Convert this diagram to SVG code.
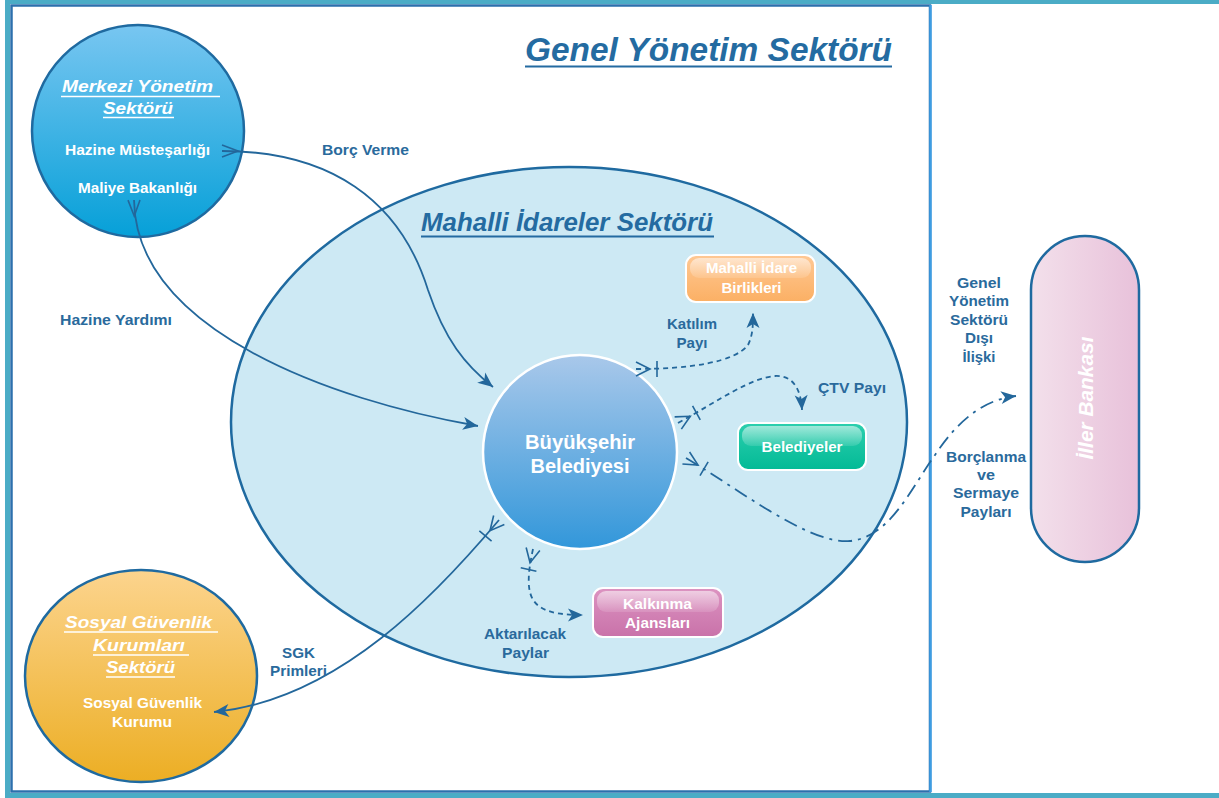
<svg xmlns="http://www.w3.org/2000/svg" width="1219" height="798" viewBox="0 0 1219 798">
<defs>
<linearGradient id="gMer" x1="0" y1="0" x2="0" y2="1"><stop offset="0" stop-color="#78c6f1"/><stop offset="1" stop-color="#06a0d8"/></linearGradient>
<linearGradient id="gBB" x1="0" y1="0" x2="0" y2="1"><stop offset="0" stop-color="#a9c8ea"/><stop offset="1" stop-color="#3297da"/></linearGradient>
<linearGradient id="gSGK" x1="0" y1="0" x2="0" y2="1"><stop offset="0" stop-color="#fcd48e"/><stop offset="1" stop-color="#ecae24"/></linearGradient>
<linearGradient id="gOr" x1="0" y1="0" x2="0" y2="1"><stop offset="0" stop-color="#ffc894"/><stop offset="1" stop-color="#fbb064"/></linearGradient>
<linearGradient id="gGr" x1="0" y1="0" x2="0" y2="1"><stop offset="0" stop-color="#2ccfae"/><stop offset="1" stop-color="#03ba96"/></linearGradient>
<linearGradient id="gPk" x1="0" y1="0" x2="0" y2="1"><stop offset="0" stop-color="#dc93c1"/><stop offset="1" stop-color="#c972a9"/></linearGradient>
<linearGradient id="gIl" x1="0" y1="0" x2="1" y2="0"><stop offset="0" stop-color="#f3e0eb"/><stop offset="1" stop-color="#e8c1da"/></linearGradient>
<linearGradient id="gHi" x1="0" y1="0" x2="0" y2="1"><stop offset="0" stop-color="#fff" stop-opacity="0.55"/><stop offset="1" stop-color="#fff" stop-opacity="0.12"/></linearGradient>
<marker id="ah" markerUnits="userSpaceOnUse" markerWidth="20" markerHeight="20" refX="0" refY="0" orient="auto" overflow="visible">
<path d="M0,0 L-15,-6.5 L-11,0 L-15,6.5 Z" fill="#23679b"/>
</marker>
<marker id="tail" markerUnits="userSpaceOnUse" markerWidth="20" markerHeight="20" refX="0" refY="0" orient="auto" overflow="visible">
<path d="M0,-6 L16,0 L0,6" fill="none" stroke="#23679b" stroke-width="1.6"/>
</marker>
<marker id="tailT" markerUnits="userSpaceOnUse" markerWidth="30" markerHeight="20" refX="0" refY="0" orient="auto" overflow="visible">
<path d="M0,-7 L14,0 L0,7 M21,-8 L21,8" fill="none" stroke="#23679b" stroke-width="1.6"/>
</marker>
<style>
.lbl{font-family:"Liberation Sans",Arial,sans-serif;font-weight:bold;font-size:15px;fill:#2a6a9c}
.wt{font-family:"Liberation Sans",Arial,sans-serif;font-weight:bold;font-size:15px;fill:#ffffff}
.wti{font-family:"Liberation Sans",Arial,sans-serif;font-weight:bold;font-style:italic;font-size:17px;fill:#ffffff}
.ttl{font-family:"Liberation Sans",Arial,sans-serif;font-weight:bold;font-style:italic;fill:#246ba1}
.ul{stroke:#ffffff;stroke-width:1.5}
.con{fill:none;stroke:#23679b;stroke-width:1.8}
.box{stroke:#ffffff;stroke-width:2}
</style>
</defs>
<rect x="0" y="0" width="1219" height="798" fill="#ffffff"/>
<rect x="7.5" y="1.5" width="1215" height="794" fill="none" stroke="#4bacc6" stroke-width="5"/>
<rect x="11.5" y="5.5" width="918.5" height="786" fill="none" stroke="#2c70ad" stroke-width="2.5"/>
<line x1="930.5" y1="5" x2="930.5" y2="792" stroke="#3e9de2" stroke-width="2.5"/>

<g id="title">
<text class="ttl" x="525" y="61" font-size="33" textLength="367" lengthAdjust="spacingAndGlyphs">Genel Yönetim Sektörü</text>
<line x1="525" y1="66.5" x2="892" y2="66.5" stroke="#246ba1" stroke-width="2.2"/>
</g>

<g id="mahalli-idareler">
<ellipse cx="569" cy="422" rx="338" ry="255" fill="#cde9f4" stroke="#1f6aa0" stroke-width="2.5"/>
<text class="ttl" x="421" y="231" font-size="25" textLength="292" lengthAdjust="spacingAndGlyphs">Mahalli İdareler Sektörü</text>
<line x1="421" y1="236.5" x2="714" y2="236.5" stroke="#246ba1" stroke-width="2"/>
</g>

<g id="merkezi">
<circle cx="138" cy="131" r="106" fill="url(#gMer)" stroke="#1f6aa0" stroke-width="2.5"/>
<text class="wti" x="62" y="92" textLength="151" lengthAdjust="spacingAndGlyphs">Merkezi Yönetim</text>
<line class="ul" x1="61" y1="96.5" x2="220" y2="96.5"/>
<text class="wti" x="103" y="114" textLength="70" lengthAdjust="spacingAndGlyphs">Sektörü</text>
<line class="ul" x1="103" y1="117.5" x2="174" y2="117.5"/>
<text class="wt" x="65" y="155" textLength="145" lengthAdjust="spacingAndGlyphs">Hazine Müsteşarlığı</text>
<text class="wt" x="78" y="193" textLength="119" lengthAdjust="spacingAndGlyphs">Maliye Bakanlığı</text>
</g>

<g id="sosyal">
<ellipse cx="141" cy="676" rx="116" ry="106" fill="url(#gSGK)" stroke="#1f6aa0" stroke-width="2.5"/>
<text class="wti" x="65" y="628" textLength="147" lengthAdjust="spacingAndGlyphs">Sosyal Güvenlik</text>
<line class="ul" x1="64" y1="632" x2="218" y2="632"/>
<text class="wti" x="93" y="651" textLength="92" lengthAdjust="spacingAndGlyphs">Kurumları</text>
<line class="ul" x1="93" y1="655" x2="189" y2="655"/>
<text class="wti" x="106" y="673" textLength="69" lengthAdjust="spacingAndGlyphs">Sektörü</text>
<line class="ul" x1="106" y1="677" x2="175" y2="677"/>
<text class="wt" x="83" y="708" textLength="119" lengthAdjust="spacingAndGlyphs">Sosyal Güvenlik</text>
<text class="wt" x="112" y="727" textLength="60" lengthAdjust="spacingAndGlyphs">Kurumu</text>
</g>

<g id="buyuksehir">
<circle cx="580" cy="452" r="97" fill="url(#gBB)" stroke="#ffffff" stroke-width="2.5"/>
<text class="wt" x="580" y="449" text-anchor="middle" style="font-size:20px" textLength="110" lengthAdjust="spacingAndGlyphs">Büyükşehir</text>
<text class="wt" x="580" y="473" text-anchor="middle" style="font-size:20px" textLength="99" lengthAdjust="spacingAndGlyphs">Belediyesi</text>
</g>

<g id="mahalli-idare-birlikleri">
<rect class="box" x="686" y="255" width="129" height="47" rx="10" fill="url(#gOr)"/>
<rect x="690" y="258" width="121" height="20" rx="9" fill="url(#gHi)"/>
<text class="wt" x="751.5" y="273" text-anchor="middle" textLength="91" lengthAdjust="spacingAndGlyphs">Mahalli İdare</text>
<text class="wt" x="751.5" y="293" text-anchor="middle" textLength="60" lengthAdjust="spacingAndGlyphs">Birlikleri</text>
</g>

<g id="belediyeler">
<rect class="box" x="738" y="423" width="128" height="47" rx="10" fill="url(#gGr)"/>
<rect x="742" y="426" width="120" height="20" rx="9" fill="url(#gHi)"/>
<text class="wt" x="802" y="452" text-anchor="middle" textLength="81" lengthAdjust="spacingAndGlyphs">Belediyeler</text>
</g>

<g id="kalkinma">
<rect class="box" x="593" y="588" width="130" height="49" rx="10" fill="url(#gPk)"/>
<rect x="597" y="591" width="122" height="21" rx="9" fill="url(#gHi)"/>
<text class="wt" x="657.5" y="609" text-anchor="middle" textLength="69" lengthAdjust="spacingAndGlyphs">Kalkınma</text>
<text class="wt" x="657.5" y="628" text-anchor="middle" textLength="65" lengthAdjust="spacingAndGlyphs">Ajansları</text>
</g>

<g id="iller-bankasi">
<rect x="1031" y="236" width="108" height="326" rx="54" fill="url(#gIl)" stroke="#1f6aa0" stroke-width="2.5"/>
<text class="wti" transform="translate(1093,398) rotate(-90)" x="0" y="0" text-anchor="middle" style="font-size:21px" textLength="123" lengthAdjust="spacingAndGlyphs">İller Bankası</text>
</g>

<g id="connectors">
<path class="con" d="M222,151 C330,151 400,200 428,290 C445,340 465,365 493,387" marker-start="url(#tail)" marker-end="url(#ah)"/>
<path class="con" d="M134,200 C136,330 330,400 478,426" marker-start="url(#tail)" marker-end="url(#ah)"/>
<path class="con" d="M499,520 C440,590 340,700 214,712" marker-start="url(#tailT)" marker-end="url(#ah)"/>
<path class="con" d="M636,369 C690,369 735,362 748,345 C753,335 753,325 753,313" stroke-dasharray="5,4" marker-start="url(#tailT)" marker-end="url(#ah)"/>
<path class="con" d="M678,423 C720,400 750,378 775,376 C795,375 801,392 802,410" stroke-dasharray="5,4" marker-start="url(#tailT)" marker-end="url(#ah)"/>
<path class="con" d="M686,458 C740,490 810,545 850,541 C890,537 910,490 935,455 C955,425 980,400 1016,396" stroke-dasharray="14,6,3,6" marker-start="url(#tailT)" marker-end="url(#ah)"/>
<path class="con" d="M533,549 C522,600 530,615 583,615" stroke-dasharray="5,4" marker-start="url(#tailT)" marker-end="url(#ah)"/>
</g>

<g id="labels">
<text class="lbl" x="322" y="155" textLength="87" lengthAdjust="spacingAndGlyphs">Borç Verme</text>
<text class="lbl" x="60" y="325" textLength="112" lengthAdjust="spacingAndGlyphs">Hazine Yardımı</text>
<text class="lbl" x="692" y="329" text-anchor="middle" textLength="50" lengthAdjust="spacingAndGlyphs">Katılım</text>
<text class="lbl" x="692" y="348" text-anchor="middle" textLength="31" lengthAdjust="spacingAndGlyphs">Payı</text>
<text class="lbl" x="818" y="393" textLength="68" lengthAdjust="spacingAndGlyphs">ÇTV Payı</text>
<text class="lbl" x="979" y="288" text-anchor="middle" textLength="44" lengthAdjust="spacingAndGlyphs">Genel</text>
<text class="lbl" x="979" y="306" text-anchor="middle" textLength="60" lengthAdjust="spacingAndGlyphs">Yönetim</text>
<text class="lbl" x="979" y="325" text-anchor="middle" textLength="58" lengthAdjust="spacingAndGlyphs">Sektörü</text>
<text class="lbl" x="979" y="343" text-anchor="middle" textLength="28" lengthAdjust="spacingAndGlyphs">Dışı</text>
<text class="lbl" x="979" y="362" text-anchor="middle" textLength="33" lengthAdjust="spacingAndGlyphs">İlişki</text>
<text class="lbl" x="986" y="462" text-anchor="middle" textLength="80" lengthAdjust="spacingAndGlyphs">Borçlanma</text>
<text class="lbl" x="986" y="480" text-anchor="middle" textLength="18" lengthAdjust="spacingAndGlyphs">ve</text>
<text class="lbl" x="986" y="498" text-anchor="middle" textLength="66" lengthAdjust="spacingAndGlyphs">Sermaye</text>
<text class="lbl" x="986" y="517" text-anchor="middle" textLength="51" lengthAdjust="spacingAndGlyphs">Payları</text>
<text class="lbl" x="298.5" y="658" text-anchor="middle" textLength="33" lengthAdjust="spacingAndGlyphs">SGK</text>
<text class="lbl" x="298.5" y="676" text-anchor="middle" textLength="57" lengthAdjust="spacingAndGlyphs">Primleri</text>
<text class="lbl" x="525" y="639" text-anchor="middle" textLength="82" lengthAdjust="spacingAndGlyphs">Aktarılacak</text>
<text class="lbl" x="525.5" y="658" text-anchor="middle" textLength="47" lengthAdjust="spacingAndGlyphs">Paylar</text>
</g>
</svg>
